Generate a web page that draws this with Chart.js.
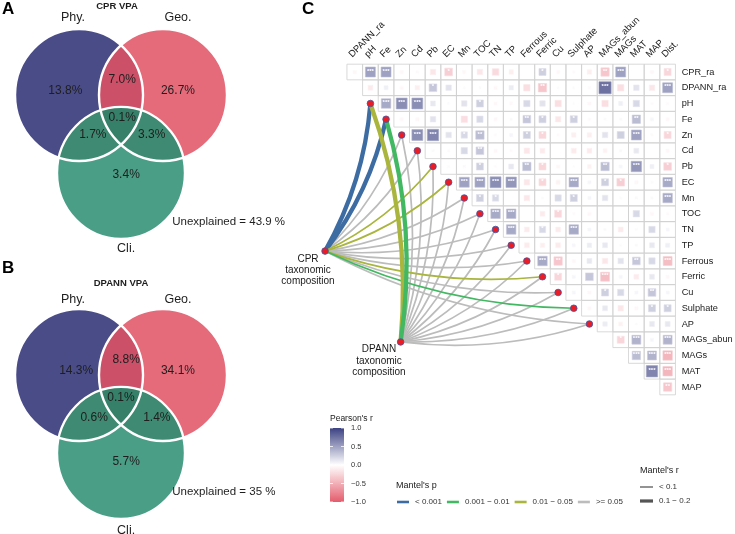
<!DOCTYPE html>
<html><head><meta charset="utf-8">
<script src="https://cdn.jsdelivr.net/npm/chart.js@4.4.1/dist/chart.umd.min.js"></script>
<style>
html,body{margin:0;padding:0;background:#fff;}
#wrap{position:relative;width:735px;height:534px;overflow:hidden;background:#fff;}
canvas{position:absolute;}
</style></head><body>
<div id="wrap">
<canvas id="vA" width="290" height="258" style="left:0;top:0;"></canvas>
<canvas id="vB" width="290" height="276" style="left:0;top:258px;"></canvas>
<canvas id="hc" width="735" height="534" style="left:0;top:0;"></canvas>
</div>
<script>
// ================= DATA =================
// Venn (variation partitioning) panels
const vennSetLabels = ['Phy.', 'Geo.', 'Cli.'];
const vennRegions = ['Phy', 'Geo', 'Cli', 'Phy∩Geo', 'Phy∩Cli', 'Geo∩Cli', 'Phy∩Geo∩Cli'];
const cprVpa = [13.8, 26.7, 3.4, 7.0, 1.7, 3.3, 0.1];
const cprUnexplained = 43.9;
const dpannVpa = [14.3, 34.1, 5.7, 8.8, 0.6, 1.4, 0.1];
const dpannUnexplained = 35;

// Correlation heatmap (upper triangle): columns and rows
const colVars = ['DPANN_ra','pH','Fe','Zn','Cd','Pb','EC','Mn','TOC','TN','TP','Ferrous','Ferric','Cu','Sulphate','AP','MAGs_abun','MAGs','MAT','MAP','Dist.'];
const rowVars = ['CPR_ra','DPANN_ra','pH','Fe','Zn','Cd','Pb','EC','Mn','TOC','TN','TP','Ferrous','Ferric','Cu','Sulphate','AP','MAGs_abun','MAGs','MAT','MAP'];

// Pearson's r per row (row i covers columns i .. 20)
const r_CPR_ra   = [-0.05,0.5,0.5,-0.05,-0.03,-0.15,-0.3,-0.05,-0.15,-0.22,-0.1,0.0,0.25,-0.05,-0.03,-0.1,-0.35,0.5,0.0,-0.05,-0.25];
const r_DPANN_ra = [-0.12,0.08,-0.05,-0.1,0.3,0.15,0.02,0.02,-0.05,0.1,-0.2,-0.35,0.02,0.02,-0.03,0.75,-0.2,0.15,-0.15,0.5];
const r_pH       = [0.45,0.6,0.6,0.12,0.02,0.15,0.25,-0.05,-0.04,0.2,0.15,-0.2,0.02,-0.05,-0.2,0.08,0.2,-0.03,-0.03];
const r_Fe       = [-0.05,-0.05,0.15,0.0,-0.2,0.2,-0.05,0.03,0.3,0.25,-0.15,0.25,-0.03,-0.03,0.03,0.35,0.05,-0.05];
const r_Zn       = [0.6,0.65,0.15,0.2,0.35,-0.03,0.05,0.25,-0.25,-0.03,-0.1,-0.1,0.15,0.25,0.5,-0.03,-0.25];
const r_Cd       = [-0.03,-0.03,0.2,0.3,-0.05,-0.03,-0.15,-0.12,0.0,-0.12,-0.12,-0.08,0.03,0.12,0.0,-0.05];
const r_Pb       = [-0.03,0.03,0.25,-0.03,0.12,0.35,-0.25,-0.05,0.02,-0.08,0.35,0.05,0.55,0.08,-0.3];
const r_EC       = [0.5,0.5,0.6,0.55,-0.15,-0.25,-0.08,0.45,0.05,0.25,-0.3,-0.05,-0.03,0.45];
const r_Mn       = [0.25,0.2,0.0,-0.15,0.02,0.2,0.25,0.05,0.15,-0.03,0.03,0.03,0.45];
const r_TOC      = [0.45,0.45,0.0,-0.12,-0.25,-0.03,-0.05,0.0,0.0,0.2,-0.05,-0.03];
const r_TN       = [0.45,-0.12,0.2,-0.12,0.45,0.05,0.03,-0.12,-0.03,0.2,0.05];
const r_TP       = [-0.12,-0.1,-0.12,0.05,0.1,0.12,0.02,0.03,0.12,0.08];
const r_Ferrous  = [0.45,-0.35,-0.05,0.12,-0.15,0.15,0.3,0.2,-0.4];
const r_Ferric   = [-0.25,0.05,0.3,-0.4,0.05,-0.12,0.12,-0.05];
const r_Cu       = [0.05,-0.05,0.25,0.2,0.05,0.3,0.05];
const r_Sulphate = [-0.05,0.12,-0.15,-0.05,0.25,0.25];
const r_AP       = [0.1,-0.08,0.02,0.12,0.12];
const r_MAGs_abun= [-0.25,0.4,0.05,0.4];
const r_MAGs     = [0.35,0.4,-0.45];
const r_MAT      = [0.65,-0.45];
const r_MAP      = [-0.35];

// significance stars per cell (number of *)
const s_CPR_ra   = [0,3,3,0,0,0,1,0,0,0,0,0,1,0,0,0,2,3,0,0,1];
const s_DPANN_ra = [0,0,0,0,1,0,0,0,0,0,0,2,0,0,0,3,0,0,0,3];
const s_pH       = [3,3,3,0,0,0,1,0,0,0,0,0,0,0,0,0,0,0,0];
const s_Fe       = [0,0,0,0,0,0,0,0,2,1,0,1,0,0,0,2,0,0];
const s_Zn       = [3,3,0,1,2,0,0,1,1,0,0,0,0,0,3,0,1];
const s_Cd       = [0,0,0,2,0,0,0,0,0,0,0,0,0,0,0,0];
const s_Pb       = [0,0,1,0,0,2,1,0,0,0,2,0,3,0,1];
const s_EC       = [3,3,3,3,0,1,0,3,0,1,1,0,0,3];
const s_Mn       = [1,1,0,0,0,0,1,0,0,0,0,0,3];
const s_TOC      = [3,3,0,0,1,0,0,0,0,0,0,0];
const s_TN       = [3,0,1,0,3,0,0,0,0,0,0];
const s_TP       = [0,0,0,0,0,0,0,0,0,0];
const s_Ferrous  = [3,2,0,0,0,0,2,0,3];
const s_Ferric   = [1,0,0,3,0,0,0,0];
const s_Cu       = [0,0,1,0,0,2,0];
const s_Sulphate = [0,0,0,0,1,1];
const s_AP       = [0,0,0,0,0];
const s_MAGs_abun= [1,3,0,3];
const s_MAGs     = [3,3,3];
const s_MAT      = [3,3];
const s_MAP      = [2];

// Mantel tests: environmental variables linked to each community
const mantelEnv    = ['pH','Fe','Zn','Cd','Pb','EC','Mn','TOC','TN','TP','Ferrous','Ferric','Cu','Sulphate','AP'];
const cprMantelP   = ['<0.001','<0.001','>=0.05','>=0.05','0.01-0.05','0.01-0.05','>=0.05','>=0.05','>=0.05','>=0.05','>=0.05','0.01-0.05','>=0.05','0.001-0.01','>=0.05'];
const cprMantelR   = ['0.1-0.2','0.1-0.2','<0.1','<0.1','<0.1','<0.1','<0.1','<0.1','<0.1','<0.1','<0.1','<0.1','<0.1','<0.1','<0.1'];
const dpannMantelP = ['0.01-0.05','0.001-0.01','>=0.05','>=0.05','>=0.05','>=0.05','>=0.05','>=0.05','>=0.05','>=0.05','>=0.05','>=0.05','>=0.05','>=0.05','>=0.05'];
const dpannMantelR = ['0.1-0.2','0.1-0.2','<0.1','<0.1','<0.1','<0.1','<0.1','<0.1','<0.1','<0.1','<0.1','<0.1','<0.1','<0.1','<0.1'];

// legend levels
const pLevels = ['<0.001','0.001-0.01','0.01-0.05','>=0.05'];
const pLabels = ['< 0.001','0.001 \u2212 0.01','0.01 \u2212 0.05','>= 0.05'];
const rLevels = ['<0.1','0.1-0.2'];
const rLabels = ['< 0.1','0.1 \u2212 0.2'];
const colorbarTicks = [1.0, 0.5, 0.0, -0.5, -1.0];

// ================= STYLE / LAYOUT =================
const FONT = '"Liberation Sans", Arial, Helvetica, sans-serif';
Chart.defaults.font.family = FONT;
const pColor = {'<0.001':'#3d6ca3','0.001-0.01':'#43b862','0.01-0.05':'#a9b53d','>=0.05':'#bcbcbc'};
const rWidth = {'<0.1':1.7,'0.1-0.2':4.3};
const vennCols = {phy:'#4a4c88', geo:'#e56a7a', pg:'#cc5068', cli:'#4b9e86', cx:'#3e8a72', all:'#367f69'};
const vennCenters = [{x:-0.656,y:0},{x:0.656,y:0},{x:0,y:1.18}];
const VUX = 64, VUY = 66;

function padFor(w,h,ox,oy,ux,uy,xmin,xmax,ymin,ymax){
  return {left: ox + xmin*ux, right: w - (ox + xmax*ux), top: oy + ymin*uy, bottom: h - (oy + ymax*uy)};
}

function makeVenn(id, vals, unexpl, title, letter, L){
  const cv = document.getElementById(id);
  const W = cv.width, H = cv.height;
  return new Chart(cv, {
    type:'scatter',
    data:{datasets:[{data: vennCenters, pointRadius:0}]},
    options:{responsive:false, animation:false, events:[],
      layout:{padding: padFor(W,H,L.ox,L.oy,VUX,VUY,-1.8,2.6,L.ymin,L.ymax)},
      scales:{x:{type:'linear',min:-1.8,max:2.6,display:false},
              y:{type:'linear',min:L.ymin,max:L.ymax,reverse:true,display:false}},
      plugins:{legend:{display:false},tooltip:{enabled:false}}},
    plugins:[{id:'venn'+id, afterDraw(chart){
      const ctx = chart.ctx, x = chart.scales.x, y = chart.scales.y;
      const RX = x.getPixelForValue(1) - x.getPixelForValue(0);
      const RY = y.getPixelForValue(1) - y.getPixelForValue(0);
      const C = vennCenters.map(c=>({x:x.getPixelForValue(c.x), y:y.getPixelForValue(c.y)}));
      const circ = c => { ctx.beginPath(); ctx.ellipse(c.x,c.y,RX,RY,0,0,Math.PI*2); };
      ctx.save();
      circ(C[0]); ctx.fillStyle=vennCols.phy; ctx.fill();
      circ(C[1]); ctx.fillStyle=vennCols.geo; ctx.fill();
      ctx.save(); circ(C[0]); ctx.clip(); circ(C[1]); ctx.fillStyle=vennCols.pg; ctx.fill(); ctx.restore();
      circ(C[2]); ctx.fillStyle=vennCols.cli; ctx.fill();
      ctx.save(); circ(C[2]); ctx.clip(); ctx.fillStyle=vennCols.cx; circ(C[0]); ctx.fill(); circ(C[1]); ctx.fill(); ctx.restore();
      ctx.save(); circ(C[2]); ctx.clip(); circ(C[0]); ctx.clip(); circ(C[1]); ctx.fillStyle=vennCols.all; ctx.fill(); ctx.restore();
      ctx.strokeStyle='#ffffff'; ctx.lineWidth=2.4;
      C.forEach(c=>{circ(c); ctx.stroke();});
      // region values
      ctx.fillStyle='#1e1e1e'; ctx.textAlign='center'; ctx.textBaseline='middle';
      ctx.font='12px '+FONT;
      vals.forEach((v,i)=>{
        const p = L.textPos[i];
        ctx.fillText(v.toFixed(1)+'%', x.getPixelForValue(p[0]), y.getPixelForValue(p[1]));
      });
      // set labels
      ctx.font='12.5px '+FONT;
      vennSetLabels.forEach((s,i)=>{
        const p = L.setPos[i];
        ctx.fillText(s, x.getPixelForValue(p[0]), y.getPixelForValue(p[1]));
      });
      ctx.textAlign='left'; ctx.font='11.5px '+FONT;
      ctx.fillText('Unexplained = '+unexpl+' %', x.getPixelForValue(L.unexpl[0]), y.getPixelForValue(L.unexpl[1]));
      ctx.textAlign='center'; ctx.font='bold 9.5px '+FONT;
      ctx.fillText(title, L.titleXY[0], L.titleXY[1]);
      ctx.textAlign='left'; ctx.font='bold 17px '+FONT; ctx.fillStyle='#000';
      ctx.fillText(letter, L.letterXY[0], L.letterXY[1]);
      ctx.restore();
    }}]
  });
}

makeVenn('vA', cprVpa, cprUnexplained, 'CPR VPA', 'A', {
  ox:121, oy:95, ymin:-1.4, ymax:2.45,
  textPos:[[-0.87,-0.06],[0.89,-0.06],[0.08,1.21],[0.02,-0.227],[-0.44,0.606],[0.48,0.606],[0.02,0.348]],
  setPos:[[-0.75,-1.167],[0.89,-1.167],[0.08,2.32]],
  unexpl:[0.8,1.924], titleXY:[117,6], letterXY:[2,9]
});
makeVenn('vB', dpannVpa, dpannUnexplained, 'DPANN VPA', 'B', {
  ox:121, oy:117, ymin:-1.4, ymax:2.35,
  textPos:[[-0.70,-0.06],[0.89,-0.06],[0.08,1.318],[0.08,-0.227],[-0.42,0.65],[0.56,0.65],[0.0,0.348]],
  setPos:[[-0.75,-1.15],[0.89,-1.15],[0.08,2.35]],
  unexpl:[0.8,1.773], titleXY:[121,25], letterXY:[2,10]
});

// ================= HEATMAP + MANTEL =================
const rRows = [r_CPR_ra,r_DPANN_ra,r_pH,r_Fe,r_Zn,r_Cd,r_Pb,r_EC,r_Mn,r_TOC,r_TN,r_TP,r_Ferrous,r_Ferric,r_Cu,r_Sulphate,r_AP,r_MAGs_abun,r_MAGs,r_MAT,r_MAP];
const sRows = [s_CPR_ra,s_DPANN_ra,s_pH,s_Fe,s_Zn,s_Cd,s_Pb,s_EC,s_Mn,s_TOC,s_TN,s_TP,s_Ferrous,s_Ferric,s_Cu,s_Sulphate,s_AP,s_MAGs_abun,s_MAGs,s_MAT,s_MAP];

const cellPts = [], sqPts = [];
rRows.forEach((vals,i)=>vals.forEach((r,k)=>{
  const j = i + k;
  cellPts.push({x:j, y:i});
  sqPts.push({x:j, y:i, r:r, s:sRows[i][k]});
}));
// layout anchors of the two community nodes (grid units)
const cprNode = {x:-1.9, y:11.37};
const dpannNode = {x:2.93, y:17.14};
const nodePts = mantelEnv.map(n=>{const ti=rowVars.indexOf(n); return {x:ti-1, y:ti};}).concat([cprNode, dpannNode]);

function rColor(r, a){
  const t = Math.min(1, Math.abs(r));
  const c = r >= 0 ? [60,66,130] : [228,92,108];
  const m = c.map(v=>Math.round(255 + (v-255)*t));
  return 'rgba('+m[0]+','+m[1]+','+m[2]+','+(a==null?1:a)+')';
}
const cellPx = ch => ch.scales.x.getPixelForValue(1) - ch.scales.x.getPixelForValue(0);
const CURV = 0.11;

const HW = 735, HH = 534;
new Chart(document.getElementById('hc'), {
  type:'scatter',
  data:{datasets:[
    {label:'nodes', data:nodePts, pointStyle:'circle', pointRadius:3.3, backgroundColor:'#ec1c24', borderColor:'#3c56a8', borderWidth:0.8},
    {label:'r', data:sqPts, pointStyle:'rect',
      pointRadius: c => Math.sqrt(Math.abs(c.raw.r))*cellPx(c.chart)*0.9/Math.SQRT2,
      backgroundColor: c => rColor(c.raw.r), borderColor: c => rColor(c.raw.r*0.7), borderWidth:0.6},
    {label:'grid', data:cellPts, pointStyle:'rect',
      pointRadius: c => cellPx(c.chart)/Math.SQRT2,
      backgroundColor:'rgba(0,0,0,0)', borderColor:'#cfcfcf', borderWidth:0.8}
  ]},
  options:{responsive:false, animation:false, events:[],
    layout:{padding: padFor(HW,HH,355,72,15.7,15.75,-4,24,-1,29)},
    scales:{x:{type:'linear',min:-4,max:24,display:false},
            y:{type:'linear',min:-1,max:29,reverse:true,display:false}},
    plugins:{legend:{display:false},tooltip:{enabled:false}}},
  plugins:[{
    id:'mantel',
    beforeDatasetsDraw(chart){
      const ctx = chart.ctx, x = chart.scales.x, y = chart.scales.y;
      const segs = [];
      [[cprNode,cprMantelP,cprMantelR],[dpannNode,dpannMantelP,dpannMantelR]].forEach(([src,P,RR])=>{
        mantelEnv.forEach((n,k)=>{
          const ti = rowVars.indexOf(n);
          segs.push({sx:x.getPixelForValue(src.x), sy:y.getPixelForValue(src.y),
            tx:x.getPixelForValue(ti-1), ty:y.getPixelForValue(ti),
            col:pColor[P[k]], w:rWidth[RR[k]], g:P[k]==='>=0.05'?1:0});
        });
      });
      segs.sort((a,b)=>b.g-a.g);
      ctx.save();
      segs.forEach(s=>{
        const dx=s.tx-s.sx, dy=s.ty-s.sy;
        const cx=(s.sx+s.tx)/2 - dy*CURV, cy=(s.sy+s.ty)/2 + dx*CURV;
        ctx.beginPath(); ctx.moveTo(s.sx,s.sy); ctx.quadraticCurveTo(cx,cy,s.tx,s.ty);
        ctx.strokeStyle=s.col; ctx.lineWidth=s.w; ctx.stroke();
      });
      ctx.restore();
    },
    afterDatasetsDraw(chart){
      const ctx = chart.ctx, x = chart.scales.x, y = chart.scales.y;
      ctx.save();
      ctx.fillStyle='#ffffff'; ctx.font='bold 6px '+FONT; ctx.textAlign='center'; ctx.textBaseline='middle';
      sqPts.forEach(p=>{ if(p.s>0) ctx.fillText('*'.repeat(p.s), x.getPixelForValue(p.x), y.getPixelForValue(p.y)-1); });
      ctx.restore();
    },
    afterDraw(chart){
      const ctx = chart.ctx, x = chart.scales.x, y = chart.scales.y;
      ctx.save();
      ctx.fillStyle='#1a1a1a';
      // column labels (rotated)
      ctx.font='9.5px '+FONT; ctx.textAlign='left'; ctx.textBaseline='alphabetic';
      colVars.forEach((v,j)=>{
        ctx.save(); ctx.translate(x.getPixelForValue(j)-2.5, y.getPixelForValue(-1)+1.5);
        ctx.rotate(-Math.PI/4); ctx.fillText(v,0,0); ctx.restore();
      });
      // row labels
      ctx.font='9.2px '+FONT; ctx.textBaseline='middle';
      rowVars.forEach((v,i)=> ctx.fillText(v, x.getPixelForValue(20)+14, y.getPixelForValue(i)));
      // node labels
      ctx.font='10px '+FONT; ctx.textAlign='center';
      ['CPR','taxonomic','composition'].forEach((t,k)=>ctx.fillText(t, 308, 259+k*11));
      ['DPANN','taxonomic','composition'].forEach((t,k)=>ctx.fillText(t, 379, 349.5+k*11.5));
      // panel letter
      ctx.textAlign='left'; ctx.font='bold 17px '+FONT; ctx.fillStyle='#000';
      ctx.fillText('C', 302, 9);
      // colour bar legend
      ctx.fillStyle='#1a1a1a'; ctx.font='8.5px '+FONT;
      ctx.fillText("Pearson's r", 330, 419);
      const cbX=330, cbW=14, cbT=428, cbB=502;
      const g = ctx.createLinearGradient(0,cbT,0,cbB);
      g.addColorStop(0, rColor(1)); g.addColorStop(0.25, rColor(0.5)); g.addColorStop(0.5, '#ffffff');
      g.addColorStop(0.75, rColor(-0.5)); g.addColorStop(1, rColor(-1));
      ctx.fillStyle=g; ctx.fillRect(cbX,cbT,cbW,cbB-cbT);
      ctx.font='7.5px '+FONT; ctx.fillStyle='#333';
      colorbarTicks.forEach(v=>{
        const py = cbT + (1-v)/2*(cbB-cbT);
        ctx.strokeStyle='#ffffff'; ctx.lineWidth=0.8;
        ctx.beginPath(); ctx.moveTo(cbX,py); ctx.lineTo(cbX+3,py); ctx.moveTo(cbX+cbW-3,py); ctx.lineTo(cbX+cbW,py); ctx.stroke();
        ctx.fillText(v<0?'\u2212'+Math.abs(v).toFixed(1):v.toFixed(1), 351, py);
      });
      // Mantel's p legend
      ctx.fillStyle='#1a1a1a'; ctx.font='9px '+FONT;
      ctx.fillText("Mantel's p", 396, 486);
      ctx.font='8px '+FONT;
      let lx = 397;
      pLevels.forEach((lv,k)=>{
        ctx.strokeStyle=pColor[lv]; ctx.lineWidth=2.6;
        ctx.beginPath(); ctx.moveTo(lx,502); ctx.lineTo(lx+12,502); ctx.stroke();
        ctx.fillStyle='#333'; ctx.fillText(pLabels[k], lx+18, 502);
        lx = lx + 18 + ctx.measureText(pLabels[k]).width + 5;
      });
      // Mantel's r legend
      ctx.fillStyle='#1a1a1a'; ctx.font='9px '+FONT;
      ctx.fillText("Mantel's r", 640, 471);
      ctx.font='8px '+FONT;
      rLevels.forEach((lv,k)=>{
        const py = 487 + k*14;
        ctx.strokeStyle='#555555'; ctx.lineWidth=rWidth[lv]*0.75;
        ctx.beginPath(); ctx.moveTo(640,py); ctx.lineTo(653,py); ctx.stroke();
        ctx.fillStyle='#333'; ctx.fillText(rLabels[k], 659, py);
      });
      ctx.restore();
    }
  }]
});
</script>
</body></html>
